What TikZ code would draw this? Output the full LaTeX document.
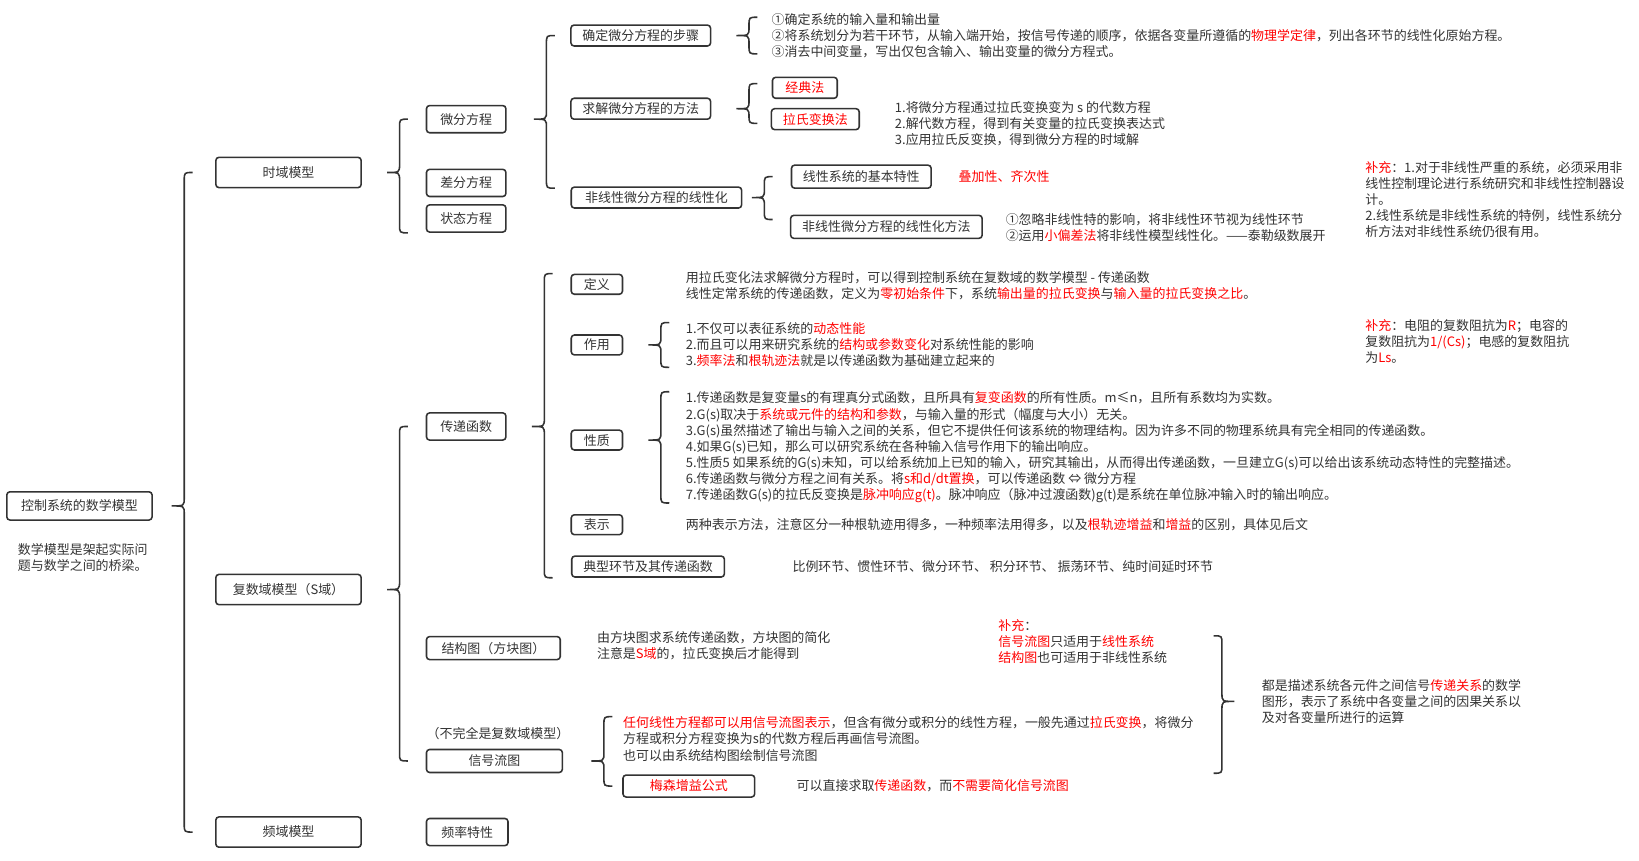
\documentclass[tikz,border=0pt]{standalone}
\usepackage{fontspec}
\setmainfont{Noto Sans CJK SC}
\usepackage{tikz}
\usetikzlibrary{positioning,calc}
\definecolor{ink}{HTML}{333333}
\newcommand{\rd}[1]{\textcolor{red}{#1}}
% curly brace opening to the right, tip at #1 shifted by #4
\newcommand{\lbrc}[4]{%
  \draw[brc] let \p0=(#1), \p1=(#2), \p2=(#3), \p3=($(#1)+(#4+12bp,0)$) in
    (\x3+8bp,\y1) .. controls (\x3,\y1) .. (\x3,\y1-8bp)
    -- (\x3,\y0+8bp) .. controls (\x3,\y0) .. (\x3-12bp,\y0)
    .. controls (\x3,\y0) .. (\x3,\y0-8bp)
    -- (\x3,\y2+8bp) .. controls (\x3,\y2) .. (\x3+8bp,\y2);}
% same brace, mirrored
\newcommand{\rbrc}[4]{%
  \draw[brc] let \p0=(#1), \p1=(#2), \p2=(#3), \p3=($(#1)-(#4+12bp,0)$) in
    (\x3-8bp,\y1) .. controls (\x3,\y1) .. (\x3,\y1-8bp)
    -- (\x3,\y0+8bp) .. controls (\x3,\y0) .. (\x3+12bp,\y0)
    .. controls (\x3,\y0) .. (\x3,\y0-8bp)
    -- (\x3,\y2+8bp) .. controls (\x3,\y2) .. (\x3-8bp,\y2);}

\begin{document}
\begin{tikzpicture}[x=1bp, y=-1bp,
  every node/.style={font=\fontsize{12.4bp}{15.4bp}\selectfont, text=ink},
  box/.style={draw=ink, line width=1.5bp, rounded corners=3bp, inner xsep=11bp, inner ysep=0pt, minimum height=20bp},
  topbox/.style={box, minimum width=139bp, minimum height=29bp},
  subbox/.style={box, minimum width=76bp, minimum height=26bp},
  txt/.style={anchor=west, align=left, inner sep=0pt},
  brc/.style={draw=ink, line width=1.5bp}
]
\useasboundingbox (0,0) rectangle (1568,823);

% root
\node[box, minimum width=139bp, minimum height=27bp] (root) at (76,484) {控制系统的数学模型};
\node[txt] (desc) at (17,533) {数学模型是架起实际问\\题与数学之间的桥梁。};

% first level
\node[topbox] (sy) at (276,165) {时域模型};
\node[topbox] (fs) at (276,564) {复数域模型（S域）};
\node[topbox] (py) at (276,796) {频域模型};

% time domain
\node[subbox] (wf) at (446,114) {微分方程};
\node[subbox] (cf) at (446,175) {差分方程};
\node[subbox] (zt) at (446,209) {状态方程};

\node[box, minimum width=132bp] (bz) at (613,34) {确定微分方程的步骤};
\node[box, minimum width=132bp] (ff) at (613,104) {求解微分方程的方法};
\node[box, minimum width=163bp] (fx) at (628,189) {非线性微分方程的线性化};

\node[txt] (bzt) at (738,34) {①确定系统的输入量和输出量\\
②将系统划分为若干环节，从输入端开始，按信号传递的顺序，依据各变量所遵循的\rd{物理学定律}，列出各环节的线性化原始方程。\\
③消去中间变量，写出仅包含输入、输出变量的微分方程式。};

\node[box, text=red, minimum width=62bp] (jd) at (770,84) {经典法};
\node[box, text=red] (ls) at (780,114) {拉氏变换法};
\node[txt] (lst) at (856,118) {1.将微分方程通过拉氏变换变为 s 的代数方程\\
2.解代数方程，得到有关变量的拉氏变换表达式\\
3.应用拉氏反变换，得到微分方程的时域解};

\node[box, minimum height=22bp] (jb) at (824,169) {线性系统的基本特性};
\node[txt, text=red] (jbt) at (917,169) {叠加性、齐次性};
\node[box, minimum height=22bp] (fxff) at (848,217) {非线性微分方程的线性化方法};
\node[txt] (fxfft) at (962,218) {①忽略非线性特的影响，将非线性环节视为线性环节\\
②运用\rd{小偏差法}将非线性模型线性化。——泰勒级数展开};

\node[txt] (bc1) at (1306,191) {\rd{补充}：1.对于非线性严重的系统，必须采用非\\
线性控制理论进行系统研究和非线性控制器设\\
计。\\
2.线性系统是非线性系统的特例，线性系统分\\
析方法对非线性系统仍很有用。};

% complex domain
\node[subbox] (cd) at (446,408) {传递函数};
\node[box, minimum width=128bp, minimum height=22bp] (jgt) at (472,620) {结构图（方块图）};
\node[txt] (note) at (408,702) {（不完全是复数域模型）};
\node[box, minimum width=130bp, minimum height=22bp] (xhlt) at (473,728) {信号流图};

\node[box, minimum width=49bp, minimum height=19bp] (dy) at (571,272) {定义};
\node[box, minimum width=49bp, minimum height=19bp] (zy) at (571,330) {作用};
\node[box, minimum width=49bp, minimum height=19bp] (xz) at (571,421) {性质};
\node[box, minimum width=49bp, minimum height=19bp] (bs) at (571,502) {表示};
\node[box, minimum width=146bp] (dx) at (620,542) {典型环节及其传递函数};

\node[txt] (dyt) at (656,273) {用拉氏变化法求解微分方程时，可以得到控制系统在复数域的数学模型 - 传递函数\\
线性定常系统的传递函数，定义为\rd{零初始条件}下，系统\rd{输出量的拉氏变换}与\rd{输入量的拉氏变换之比}。};
\node[txt] (zyt) at (656,330) {1.不仅可以表征系统的\rd{动态性能}\\
2.而且可以用来研究系统的\rd{结构或参数变化}对系统性能的影响\\
3.\rd{频率法}和\rd{根轨迹法}就是以传递函数为基础建立起来的};
\node[txt] (bc2) at (1306,327) {\rd{补充}：电阻的复数阻抗为\rd{R}；电容的\\
复数阻抗为\rd{1/(Cs)}；电感的复数阻抗\\
为\rd{Ls}。};
\node[txt] (xzt) at (656,428) {1.传递函数是复变量s的有理真分式函数，且所具有\rd{复变函数}的所有性质。m≤n，且所有系数均为实数。\\
2.G(s)取决于\rd{系统或元件的结构和参数}，与输入量的形式（幅度与大小）无关。\\
3.G(s)虽然描述了输出与输入之间的关系，但它不提供任何该系统的物理结构。因为许多不同的物理系统具有完全相同的传递函数。\\
4.如果G(s)已知，那么可以研究系统在各种输入信号作用下的输出响应。\\
5.性质5 如果系统的G(s)未知，可以给系统加上已知的输入，研究其输出，从而得出传递函数，一旦建立G(s)可以给出该系统动态特性的完整描述。\\
6.传递函数与微分方程之间有关系。将\rd{s和d/dt置换}，可以传递函数 ⇔ 微分方程\\
7.传递函数G(s)的拉氏反变换是\rd{脉冲响应g(t)}。脉冲响应（脉冲过渡函数)g(t)是系统在单位脉冲输入时的输出响应。};
\node[txt] (bst) at (656,502) {两种表示方法，注意区分一种根轨迹用得多，一种频率法用得多，以及\rd{根轨迹增益}和\rd{增益}的区别，具体见后文};
\node[txt] (dxt) at (758,542) {比例环节、惯性环节、微分环节、\ 积分环节、\ 振荡环节、纯时间延时环节};

\node[txt] (jgtt) at (571,618) {由方块图求系统传递函数，方块图的简化\\
注意是\rd{S域}的，拉氏变换后才能得到};
\node[txt] (bc3) at (955,614) {\rd{补充}：\\
\rd{信号流图}只适用于\rd{线性系统}\\
\rd{结构图}也可适用于非线性系统};
\node[txt] (sum) at (1207,671) {都是描述系统各元件之间信号\rd{传递关系}的数学\\
图形，表示了系统中各变量之间的因果关系以\\
及对各变量所进行的运算};

\node[txt] (xhltt) at (596,707) {\rd{任何线性方程都可以用信号流图表示}，但含有微分或积分的线性方程，一般先通过\rd{拉氏变换}，将微分\\
方程或积分方程变换为s的代数方程后再画信号流图。\\
也可以由系统结构图绘制信号流图};
\node[box, text=red, minimum width=126bp, minimum height=21bp] (ms) at (659,752) {梅森增益公式};
\node[txt] (mst) at (762,752) {可以直接求取\rd{传递函数}，而\rd{不需要简化信号流图}};

% frequency domain
\node[subbox, minimum width=78bp] (pl) at (447,796) {频率特性};

% braces
\lbrc{root.east}{sy}{py}{18bp}
\lbrc{sy.east}{wf}{zt.south}{24bp}
\lbrc{wf.east}{bz}{[yshift=9bp]fx}{26bp}
\lbrc{bz.east}{[yshift=-4bp]bzt.north}{[yshift=4bp]bzt.south}{24bp}
\lbrc{ff.east}{[yshift=4bp]jd}{[yshift=-4bp]ls}{24bp}
\lbrc{fx.east}{jb}{[yshift=7bp]fxff}{9bp}
\lbrc{fs.east}{cd}{xhlt}{24bp}
\lbrc{cd.east}{dy.north}{dx.south}{24bp}
\lbrc{zy.east}{zyt.north}{zyt.south}{24bp}
\lbrc{xz.east}{xzt.north}{xzt.south}{24bp}
\lbrc{xhlt.east}{xhltt.north}{ms}{27bp}
\rbrc{sum.west}{jgt.north}{xhlt.south}{26bp}
\end{tikzpicture}
\end{document}
